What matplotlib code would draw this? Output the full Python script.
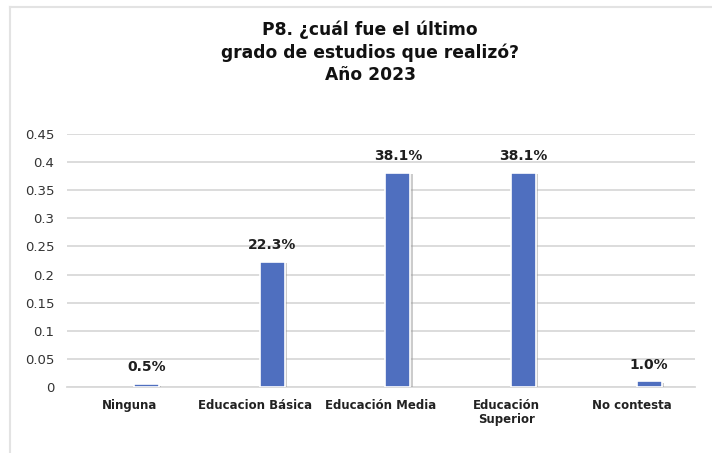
import matplotlib.pyplot as plt
import matplotlib.patheffects as pe
from matplotlib.lines import Line2D
import numpy as np

categories = ["Ninguna", "Educacion Básica", "Educación Media", "Educación\nSuperior", "No contesta"]
values = [0.005, 0.223, 0.381, 0.381, 0.010]
yticks = [0, 0.05, 0.1, 0.15, 0.2, 0.25, 0.3, 0.35, 0.4, 0.45]
ytick_labels = ["0", "0.05", "0.1", "0.15", "0.2", "0.25", "0.3", "0.35", "0.4", "0.45"]
title = "P8. ¿cuál fue el último\ngrado de estudios que realizó?\nAño 2023"

plt.rcParams["font.family"] = ["DejaVu Sans"]

fig = plt.figure(figsize=(7.12, 4.53), dpi=100)
ax = fig.add_axes([0.094, 0.1457, 0.882, 0.5585])

x = np.arange(len(categories))
offset = 0.135
bars = ax.bar(x + offset, values, width=0.2, color="#4f6fbf", edgecolor="white",
              linewidth=1.2, zorder=3)
for b in bars:
    b.set_path_effects([pe.SimplePatchShadow(offset=(1.5, -1), shadow_rgbFace="#9a9a9a", alpha=0.5),
                        pe.Normal()])

for xi, v in zip(x, values):
    ax.annotate(f"{v * 100:.1f}%", (xi + offset, v), xytext=(0, 7), textcoords="offset points",
                ha="center", va="bottom", fontsize=10, fontweight="bold", color="#1f1f1f")

ax.set_xlim(-0.5, len(categories) - 0.5)
ax.set_ylim(0, 0.45)
ax.set_yticks(yticks)
ax.set_yticklabels(ytick_labels, fontsize=9.5, color="#333333")
ax.set_xticks(x)
ax.set_xticklabels(categories, fontsize=8.5, fontweight="bold", color="#222222", linespacing=1.1)
ax.tick_params(axis="both", length=0)
ax.tick_params(axis="y", pad=9)
ax.tick_params(axis="x", pad=9)

ax.yaxis.grid(True, color="#d9d9d9", linewidth=1.3, zorder=0)
ax.set_axisbelow(True)
for side in ["top", "right", "left"]:
    ax.spines[side].set_visible(False)
ax.spines["bottom"].set_color("#d9d9d9")
ax.spines["bottom"].set_linewidth(1.3)

fig.text(0.52, 0.955, title, ha="center", va="top", fontsize=12.3, fontweight="bold",
         color="#111111", linespacing=1.3)

# outer frame, only top and left edges fall inside the image
fig.add_artist(Line2D([0.014, 1.0], [0.984, 0.984], color="#e3e3e3", linewidth=1.5))
fig.add_artist(Line2D([0.014, 0.014], [0.0, 0.984], color="#e3e3e3", linewidth=1.5))

fig.savefig("out.png", dpi=100, facecolor="white")
